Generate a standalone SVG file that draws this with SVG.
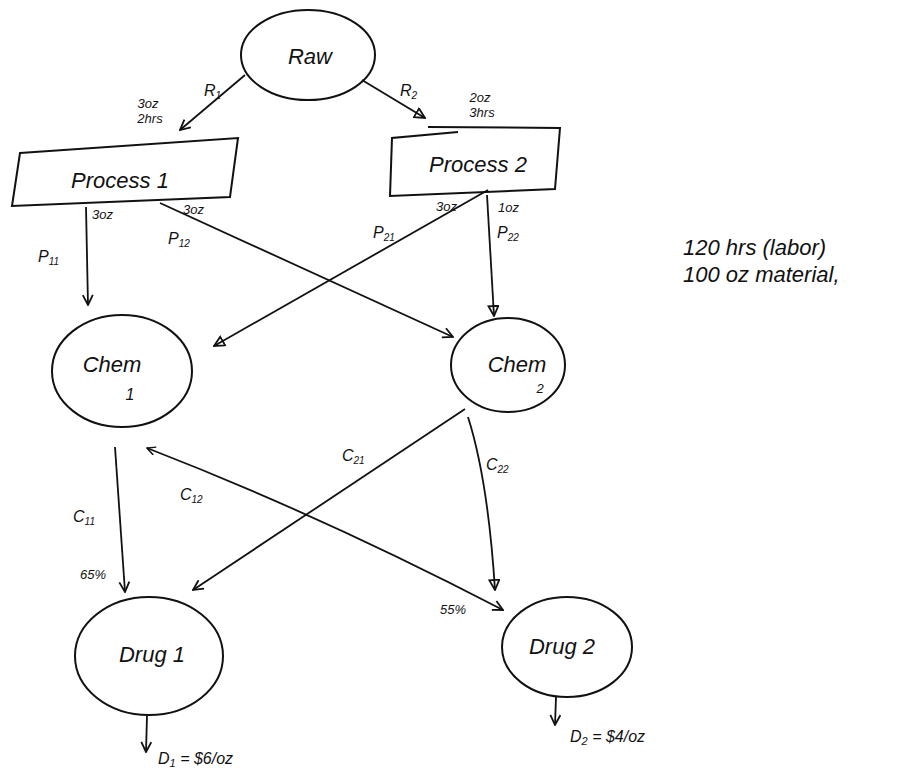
<svg xmlns="http://www.w3.org/2000/svg" width="924" height="774" viewBox="0 0 924 774">
<style>
.n{fill:none;stroke:#111;stroke-width:2}
.c{fill:none;stroke:#111;stroke-width:1.8}
text{font-family:"Liberation Sans","DejaVu Sans",sans-serif;fill:#111}
.t{font-size:22px;font-style:italic}
.l{font-size:16px;font-style:italic}
.s{font-size:13px;font-style:italic}
</style>
<defs>
<marker id="a" viewBox="0 0 12 12" refX="11" refY="6" markerWidth="12" markerHeight="12" markerUnits="userSpaceOnUse" orient="auto">
<path d="M1,1 L11,6 L1,11" fill="none" stroke="#111" stroke-width="1.8"/>
</marker>
<marker id="tri" viewBox="0 0 12 12" refX="11" refY="6" markerWidth="12" markerHeight="12" markerUnits="userSpaceOnUse" orient="auto">
<path d="M1,1 L11,6 L1,11 Z" fill="none" stroke="#111" stroke-width="1.8"/>
</marker>
<marker id="s" viewBox="0 0 12 12" refX="1" refY="6" markerWidth="10" markerHeight="10" markerUnits="userSpaceOnUse" orient="auto">
<path d="M11,1 L1,6 L11,11" fill="none" stroke="#111" stroke-width="1.8"/>
</marker>
</defs>
<rect width="924" height="774" fill="#fff"/>

<g id="raw">
<ellipse class="n" cx="308" cy="55" rx="67" ry="45"/>
<text class="t" x="310" y="64" text-anchor="middle" font-size="26">Raw</text>
</g>
<g id="process1">
<path class="n" d="M20,153 L238,138 L230,197 L12,206 Z"/>
<text class="t" x="120" y="188" text-anchor="middle">Process 1</text>
</g>
<g id="process2">
<path class="n" d="M458,132 L392,138 L390,196 L555,189 L560,128 L428,127"/>
<text class="t" x="478" y="172" text-anchor="middle">Process 2</text>
</g>
<g id="chem1">
<ellipse class="n" cx="122" cy="371" rx="70" ry="56"/>
<text class="t" x="112" y="372" text-anchor="middle">Chem</text>
<text class="l" x="130" y="400" text-anchor="middle">1</text>
</g>
<g id="chem2">
<ellipse class="n" cx="508" cy="365" rx="57" ry="47"/>
<text class="t" x="517" y="372" text-anchor="middle">Chem</text>
<text class="s" x="540" y="393" text-anchor="middle">2</text>
</g>
<g id="drug1">
<ellipse class="n" cx="149" cy="656" rx="74" ry="59"/>
<text class="t" x="152" y="662" text-anchor="middle">Drug 1</text>
</g>
<g id="drug2">
<ellipse class="n" cx="567" cy="647" rx="65" ry="50"/>
<text class="t" x="562" y="654" text-anchor="middle">Drug 2</text>
</g>
<g id="note">
<text class="t" x="683" y="255" font-size="20">120 hrs (labor)</text>
<text class="t" x="683" y="282" font-size="20">100 oz material,</text>
</g>

<g id="connectors">
<line class="c" x1="245" y1="75" x2="180" y2="130" marker-end="url(#a)"/>
<line class="c" x1="362" y1="80" x2="425" y2="118" marker-end="url(#tri)"/>
<line class="c" x1="86" y1="207" x2="88" y2="305" marker-end="url(#a)"/>
<line class="c" x1="160" y1="203" x2="453" y2="337" marker-end="url(#a)"/>
<line class="c" x1="488" y1="190" x2="214" y2="346" marker-end="url(#tri)"/>
<line class="c" x1="487" y1="195" x2="494" y2="316" marker-end="url(#tri)"/>
<line class="c" x1="115" y1="447" x2="125" y2="592" marker-end="url(#a)"/>
<path class="c" d="M147,448 Q320,515 503,610" marker-start="url(#s)" marker-end="url(#a)"/>
<line class="c" x1="465" y1="409" x2="193" y2="590" marker-end="url(#a)"/>
<path class="c" d="M468,417 Q488,480 495,590" marker-end="url(#tri)"/>
<line class="c" x1="147" y1="716" x2="146" y2="752" marker-end="url(#a)"/>
<line class="c" x1="556" y1="697" x2="555" y2="725" marker-end="url(#a)"/>
</g>

<g id="labels">
<text class="l" x="204" y="96">R<tspan font-size="10" dy="3">1</tspan></text>
<text class="l" x="400" y="96">R<tspan font-size="10" dy="3">2</tspan></text>
<text class="s" x="148" y="108" text-anchor="middle">3oz</text>
<text class="s" x="150" y="123" text-anchor="middle">2hrs</text>
<text class="s" x="480" y="102" text-anchor="middle">2oz</text>
<text class="s" x="482" y="117" text-anchor="middle">3hrs</text>
<text class="l" x="38" y="262">P<tspan font-size="10" dy="3">11</tspan></text>
<text class="s" x="92" y="219">3oz</text>
<text class="s" x="183" y="214">3oz</text>
<text class="l" x="168" y="244">P<tspan font-size="10" dy="3">12</tspan></text>
<text class="s" x="436" y="211">3oz</text>
<text class="l" x="373" y="238">P<tspan font-size="10" dy="3">21</tspan></text>
<text class="s" x="498" y="212">1oz</text>
<text class="l" x="497" y="238">P<tspan font-size="10" dy="3">22</tspan></text>
<text class="l" x="73" y="522">C<tspan font-size="10" dy="3">11</tspan></text>
<text class="s" x="80" y="579">65%</text>
<text class="l" x="180" y="500">C<tspan font-size="10" dy="3">12</tspan></text>
<text class="l" x="342" y="461">C<tspan font-size="10" dy="3">21</tspan></text>
<text class="l" x="486" y="470">C<tspan font-size="10" dy="3">22</tspan></text>
<text class="s" x="440" y="614">55%</text>
<text class="l" x="158" y="764" font-size="19">D<tspan font-size="11" dy="3">1</tspan><tspan dy="-3"> = $6/oz</tspan></text>
<text class="l" x="570" y="742" font-size="18">D<tspan font-size="11" dy="3">2</tspan><tspan dy="-3"> = $4/oz</tspan></text>
</g>
</svg>
